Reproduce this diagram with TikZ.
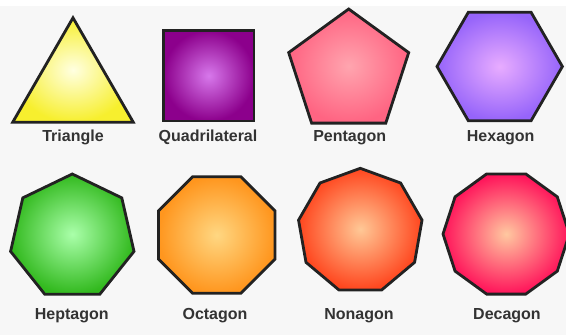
\documentclass[tikz,border=0pt]{standalone}
\usepackage{fontspec}
\setmainfont{Liberation Sans}
\usepackage{xcolor}
\usepackage{tikz}
\usetikzlibrary{shapes.geometric}
\definecolor{bggray}{RGB}{247, 247, 247}
\definecolor{edgegray}{RGB}{34, 34, 34}
\definecolor{labelgray}{RGB}{51, 51, 51}

\tikzset{
  polyshape/.style={regular polygon, regular polygon sides=#1, draw=edgegray,
    line width=1.6pt, inner sep=0pt},
  shapelabel/.style={font=\fontsize{9.1}{10}\selectfont\bfseries, text=labelgray}
}

\begin{document}
\begin{tikzpicture}[x=0.02cm, y=-0.02cm]
        \useasboundingbox (0,0) rectangle (566,335);
        \fill[white] (0,0) rectangle (566,335);
        \fill[bggray] (0,6) rectangle (566,335);

        % top row
        \node[polyshape=3, minimum size=2.784cm, inner color={rgb,255:red,255;green,255;blue,225}, outer color={rgb,255:red,247;green,239;blue,46}] (triangle) at (73,87.4) {};
        \node[polyshape=4, minimum size=2.564cm, inner color={rgb,255:red,215;green,120;blue,235}, outer color={rgb,255:red,140;green,0;blue,140}] (quad) at (208.7,75.7) {};
        \node[polyshape=5, minimum size=2.524cm, inner color={rgb,255:red,255;green,165;blue,175}, outer color={rgb,255:red,255;green,100;blue,130}] (penta) at (348.7,72.1) {};
        \node[polyshape=6, minimum size=2.508cm, inner color={rgb,255:red,232;green,172;blue,255}, outer color={rgb,255:red,150;green,100;blue,250}] (hexa) at (499.7,66.5) {};

        \node[shapelabel] (triangle label) at (73,137.5) {Triangle};
        \node[shapelabel] (quad label) at (208,137.5) {Quadrilateral};
        \node[shapelabel] (penta label) at (349.7,137.5) {Pentagon};
        \node[shapelabel] (hexa label) at (500.7,137.5) {Hexagon};

        % bottom row
        \node[polyshape=7, minimum size=2.532cm, inner color={rgb,255:red,170;green,255;blue,170}, outer color={rgb,255:red,50;green,185;blue,30}] (hepta) at (72.3,237.3) {};
        \node[polyshape=8, minimum size=2.524cm, inner color={rgb,255:red,255;green,215;blue,130}, outer color={rgb,255:red,255;green,150;blue,30}] (octa) at (216.7,235) {};
        \node[polyshape=9, minimum size=2.508cm, inner color={rgb,255:red,255;green,200;blue,150}, outer color={rgb,255:red,255;green,70;blue,30}] (nona) at (360.3,231) {};
        \node[polyshape=10, minimum size=2.528cm, inner color={rgb,255:red,255;green,200;blue,160}, outer color={rgb,255:red,255;green,20;blue,90}] (deca) at (506.2,234) {};

        \node[shapelabel] (hepta label) at (71.7,315.5) {Heptagon};
        \node[shapelabel] (octa label) at (215,315.5) {Octagon};
        \node[shapelabel] (nona label) at (359,315.5) {Nonagon};
        \node[shapelabel] (deca label) at (507,315.5) {Decagon};
    \end{tikzpicture}
\end{document}
